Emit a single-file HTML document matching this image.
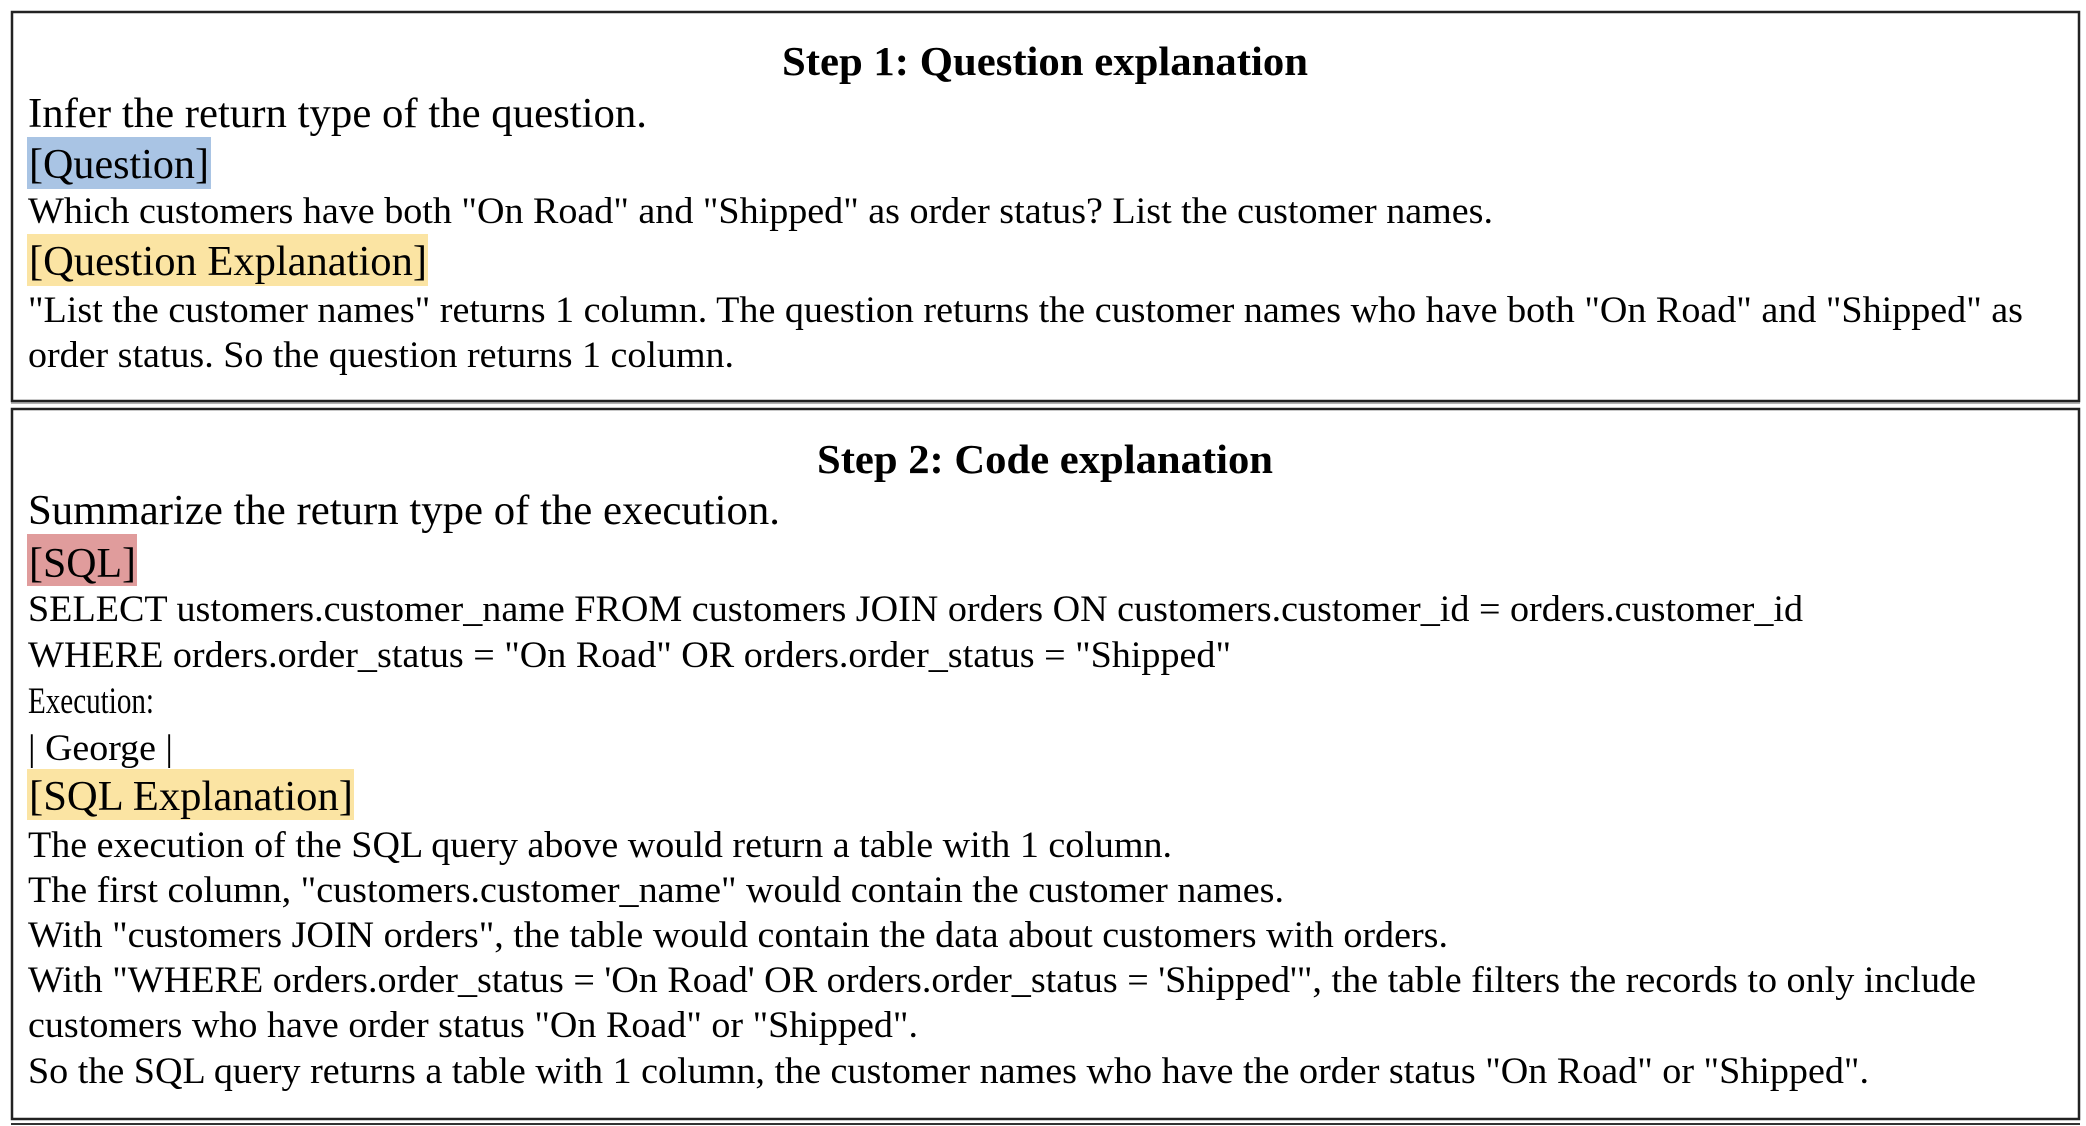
<!DOCTYPE html>
<html><head><meta charset="utf-8"><style>
html,body{margin:0;padding:0;background:#fff;}
svg{display:block;}
text{font-family:"Liberation Serif","Times New Roman",serif;fill:#000;}
.b{font-size:37px;}
.l{font-size:42px;}
.t{font-size:41px;font-weight:bold;}
</style></head><body>
<svg width="2086" height="1126" viewBox="0 0 2086 1126" xmlns="http://www.w3.org/2000/svg">
<rect x="0" y="0" width="2086" height="1126" fill="#fff"/>
<rect x="12" y="12" width="2067" height="389" fill="none" stroke="#222" stroke-width="2.5"/>
<line x1="11" y1="403" x2="2080" y2="403" stroke="#999" stroke-width="1.5"/>
<rect x="12" y="409" width="2067" height="710" fill="none" stroke="#222" stroke-width="2.5"/>
<line x1="11" y1="1124" x2="2080" y2="1124" stroke="#333" stroke-width="2"/>

<rect x="27" y="137" width="184" height="52" fill="#a9c4e4"/>
<rect x="27" y="234" width="401" height="52" fill="#fbe4a3"/>
<rect x="27" y="534" width="110" height="52" fill="#e09c9c"/>
<rect x="27" y="769" width="327" height="51" fill="#fbe4a3"/>

<text class="t" x="782" y="75" textLength="526" lengthAdjust="spacingAndGlyphs">Step 1: Question explanation</text>
<text class="l" x="28" y="127" textLength="619" lengthAdjust="spacingAndGlyphs">Infer the return type of the question.</text>
<text class="l" x="29" y="178" textLength="180" lengthAdjust="spacingAndGlyphs">[Question]</text>
<text class="b" x="28" y="223" textLength="1465" lengthAdjust="spacingAndGlyphs">Which customers have both "On Road" and "Shipped" as order status? List the customer names.</text>
<text class="l" x="29" y="275" textLength="398" lengthAdjust="spacingAndGlyphs">[Question Explanation]</text>
<text class="b" x="28" y="322" textLength="1995" lengthAdjust="spacingAndGlyphs">"List the customer names" returns 1 column. The question returns the customer names who have both "On Road" and "Shipped" as</text>
<text class="b" x="28" y="367" textLength="706" lengthAdjust="spacingAndGlyphs">order status. So the question returns 1 column.</text>

<text class="t" x="817" y="473" textLength="456" lengthAdjust="spacingAndGlyphs">Step 2: Code explanation</text>
<text class="l" x="28" y="524" textLength="752" lengthAdjust="spacingAndGlyphs">Summarize the return type of the execution.</text>
<text class="l" x="29" y="577" textLength="107" lengthAdjust="spacingAndGlyphs">[SQL]</text>
<text class="b" x="28" y="621" textLength="1775" lengthAdjust="spacingAndGlyphs">SELECT ustomers.customer_name FROM customers JOIN orders ON customers.customer_id = orders.customer_id</text>
<text class="b" x="28" y="667" textLength="1203" lengthAdjust="spacingAndGlyphs">WHERE orders.order_status = "On Road" OR orders.order_status = "Shipped"</text>
<text class="b" x="28" y="713" textLength="126" lengthAdjust="spacingAndGlyphs">Execution:</text>
<text class="b" x="28" y="760" textLength="145" lengthAdjust="spacingAndGlyphs">| George |</text>
<text class="l" x="29" y="810" textLength="324" lengthAdjust="spacingAndGlyphs">[SQL Explanation]</text>
<text class="b" x="28" y="857" textLength="1144" lengthAdjust="spacingAndGlyphs">The execution of the SQL query above would return a table with 1 column.</text>
<text class="b" x="28" y="902" textLength="1256" lengthAdjust="spacingAndGlyphs">The first column, "customers.customer_name" would contain the customer names.</text>
<text class="b" x="28" y="947" textLength="1420" lengthAdjust="spacingAndGlyphs">With "customers JOIN orders", the table would contain the data about customers with orders.</text>
<text class="b" x="28" y="992" textLength="1948" lengthAdjust="spacingAndGlyphs">With "WHERE orders.order_status = 'On Road' OR orders.order_status = 'Shipped'", the table filters the records to only include</text>
<text class="b" x="28" y="1037" textLength="890" lengthAdjust="spacingAndGlyphs">customers who have order status "On Road" or "Shipped".</text>
<text class="b" x="28" y="1083" textLength="1841" lengthAdjust="spacingAndGlyphs">So the SQL query returns a table with 1 column, the customer names who have the order status "On Road" or "Shipped".</text>
</svg>
</body></html>
